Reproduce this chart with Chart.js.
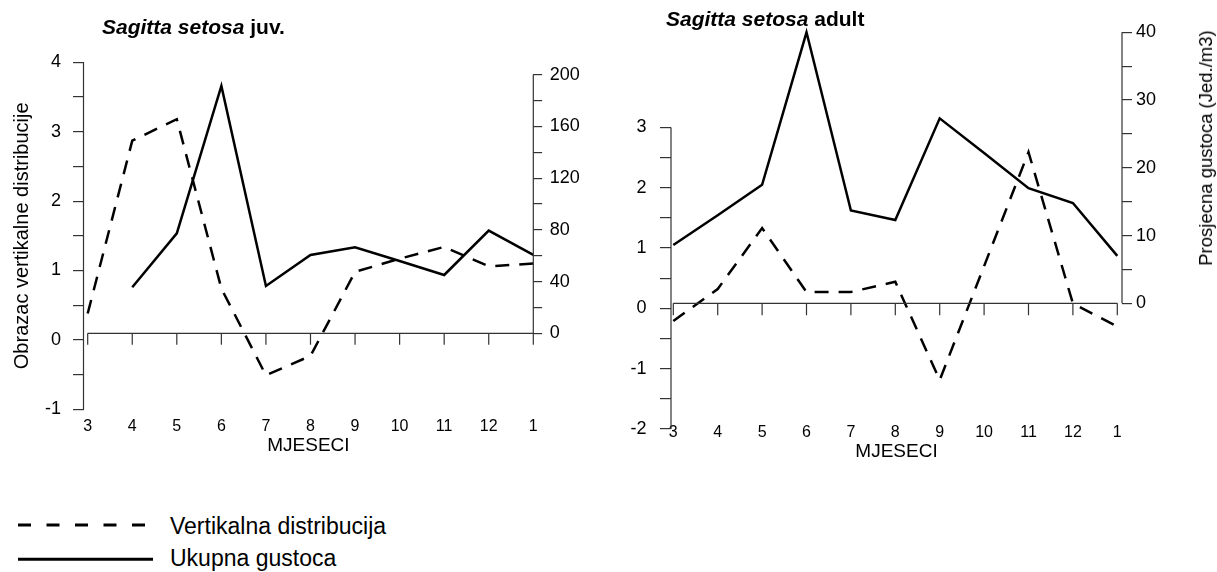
<!DOCTYPE html>
<html>
<head>
<meta charset="utf-8">
<script src="https://cdn.jsdelivr.net/npm/chart.js@4.4.1/dist/chart.umd.min.js"></script>
<style>
  body { margin: 0; background: #fff; }
  #wrap { position: relative; width: 1217px; height: 572px; overflow: hidden;
          font-family: 'Liberation Sans', Arial, sans-serif; color: #000; }
  canvas { position: absolute; top: 0; }
  .title { position: absolute; font-weight: bold; font-size: 21px; line-height: 21px; white-space: nowrap; }
  .leg { position: absolute; left: 170px; font-size: 23px; line-height: 23px; white-space: nowrap; }
  #ytitle { position: absolute; left: 1206px; top: 148px; font-size: 18.5px; line-height: 20px;
            white-space: nowrap; transform: translate(-50%, -50%) rotate(-90deg); }
</style>
</head>
<body>
<div id="wrap">
  <canvas id="juv" width="600" height="480" style="left:0;width:600px;height:480px"></canvas>
  <canvas id="adult" width="617" height="480" style="left:600px;width:617px;height:480px"></canvas>

  <div class="title" style="left:102px;top:16px"><i>Sagitta setosa</i> juv.</div>
  <div class="title" style="left:666px;top:8px"><i>Sagitta setosa</i> adult</div>
  <div id="ytitle">Prosjecna gustoca (Jed./m3)</div>

  <svg style="position:absolute;left:0;top:500px" width="200" height="72">
    <line x1="18" y1="25" x2="145" y2="25" stroke="#000" stroke-width="3" stroke-dasharray="13 15.5"/>
    <line x1="18" y1="59.3" x2="153" y2="59.3" stroke="#000" stroke-width="3"/>
  </svg>
  <div class="leg" style="top:514.5px">Vertikalna distribucija</div>
  <div class="leg" style="top:547px">Ukupna gustoca</div>
</div>

<script>
// months on the x axis
const MONTHS = ['3', '4', '5', '6', '7', '8', '9', '10', '11', '12', '1'];

// Sagitta setosa juv.
const JUV_VERTICAL = [0.38, 2.87, 3.18, 0.74, -0.51, -0.23, 0.98, 1.17, 1.34, 1.06, 1.10];
const JUV_DENSITY = [null, 35.6, 77.3, 191.3, 36.6, 60.6, 66.5, 55.9, 45.1, 79.4, 60.6];
const JUV_VERT_TICKS = [-1, 0, 1, 2, 3, 4];
const JUV_DENS_TICKS = [0, 40, 80, 120, 160, 200];

// Sagitta setosa adult
const ADULT_VERTICAL = [-0.21, 0.32, 1.33, 0.27, 0.27, 0.44, -1.19, 0.70, 2.59, 0.08, -0.30];
const ADULT_DENSITY = [8.6, 13.0, 17.5, 40.0, 13.7, 12.3, 27.3, 22.2, 17.0, 14.8, 7.0];
const ADULT_VERT_TICKS = [-2, -1, 0, 1, 2, 3];
const ADULT_DENS_TICKS = [0, 10, 20, 30, 40];

Chart.defaults.font.family = "'Liberation Sans', Arial, sans-serif";
Chart.defaults.color = '#000';

// major ticks plus one minor tick halfway between each pair
function withMinor(major) {
    var out = [];
    major.forEach(function(v, i) {
        out.push(v);
        if (i < major.length - 1) out.push((v + major[i + 1]) / 2);
    });
    return out;
}

// axis lines only over the labelled range, and the month baseline at density = 0
const axisLines = {
    id: 'axisLines',
    afterDraw(chart, args, o) {
        const ctx = chart.ctx;
        const { x, yL, yR } = chart.scales;
        ctx.save();
        ctx.strokeStyle = '#333';
        ctx.lineWidth = 1.2;
        ctx.beginPath();
        ctx.moveTo(yL.right, yL.getPixelForValue(o.left[0]));
        ctx.lineTo(yL.right, yL.getPixelForValue(o.left[1]));
        ctx.moveTo(yR.left, yR.getPixelForValue(o.right[0]));
        ctx.lineTo(yR.left, yR.getPixelForValue(o.right[1]));
        const y0 = yR.getPixelForValue(0);
        ctx.moveTo(x.getPixelForValue(0), y0);
        ctx.lineTo(x.getPixelForValue(MONTHS.length - 1), y0);
        MONTHS.forEach(function(m, i) {
            const px = x.getPixelForValue(i);
            ctx.moveTo(px, y0);
            ctx.lineTo(px, y0 + o.tick);
        });
        ctx.stroke();
        ctx.restore();
    }
};

function makeChart(id, c) {
    const pts = arr => arr.map((v, i) => ({ x: i, y: v }));
    const tickGrid = len => ({ display: true, drawOnChartArea: false, drawTicks: true,
                               tickLength: len, color: '#333', lineWidth: 1.2 });
    return new Chart(document.getElementById(id), {
        type: 'line',
        data: {
            datasets: [{
                label: 'Vertikalna distribucija',
                data: pts(c.vertical),
                yAxisID: 'yL',
                borderColor: '#000',
                borderWidth: 2.5,
                borderDash: [14, 10],
                pointRadius: 0,
                tension: 0,
                clip: false
            }, {
                label: 'Ukupna gustoca',
                data: pts(c.density),
                yAxisID: 'yR',
                borderColor: '#000',
                borderWidth: 2.5,
                pointRadius: 0,
                tension: 0,
                clip: false
            }]
        },
        options: {
            responsive: false,
            animation: false,
            devicePixelRatio: 1,
            layout: { padding: c.padding },
            plugins: {
                legend: { display: false },
                tooltip: { enabled: false },
                axisLines: {
                    left: [c.vertTicks[0], c.vertTicks[c.vertTicks.length - 1]],
                    right: [c.densTicks[0], c.densTicks[c.densTicks.length - 1]],
                    tick: c.baseTick
                }
            },
            scales: {
                x: {
                    type: 'linear',
                    position: 'bottom',
                    min: c.xRange[0],
                    max: c.xRange[1],
                    afterBuildTicks: s => { s.ticks = MONTHS.map((m, i) => ({ value: i })); },
                    afterFit: s => { s.height = c.xHeight; },
                    grid: { display: false, drawTicks: false },
                    border: { display: false },
                    ticks: {
                        autoSkip: false, maxRotation: 0, padding: c.xPad,
                        font: { size: 16 },
                        callback: v => MONTHS[v]
                    },
                    title: {
                        display: true, text: 'MJESECI',
                        font: { size: 19 },
                        padding: { top: 0, bottom: c.xTitlePad }
                    }
                },
                yL: {
                    type: 'linear',
                    position: 'left',
                    min: c.leftRange[0],
                    max: c.leftRange[1],
                    afterBuildTicks: s => { s.ticks = withMinor(c.vertTicks).map(v => ({ value: v })); },
                    afterFit: s => { s.width = c.leftWidth; },
                    grid: tickGrid(c.leftTick),
                    border: { display: false },
                    ticks: {
                        autoSkip: false, padding: c.leftPad,
                        font: { size: 18 },
                        callback: v => c.vertTicks.includes(v) ? String(v) : ''
                    },
                    title: c.leftTitle ? {
                        display: true, text: c.leftTitle,
                        font: { size: 20 },
                        padding: { top: 10, bottom: 0 }
                    } : { display: false }
                },
                yR: {
                    type: 'linear',
                    position: 'right',
                    min: c.rightRange[0],
                    max: c.rightRange[1],
                    afterBuildTicks: s => { s.ticks = withMinor(c.densTicks).map(v => ({ value: v })); },
                    afterFit: s => { s.width = c.rightWidth; },
                    grid: tickGrid(c.rightTick),
                    border: { display: false },
                    ticks: {
                        autoSkip: false, padding: c.rightPad,
                        font: { size: 18 },
                        callback: v => c.densTicks.includes(v) ? String(v) : ''
                    }
                }
            }
        },
        plugins: [axisLines]
    });
}

makeChart('juv', {
    vertical: JUV_VERTICAL, density: JUV_DENSITY,
    vertTicks: JUV_VERT_TICKS, densTicks: JUV_DENS_TICKS,
    xRange: [-0.094, 10], leftRange: [-1, 4], rightRange: [-58.8, 209.6],
    padding: { top: 62.3, left: 0, right: 6.7, bottom: 20.7 },
    leftWidth: 83.5, rightWidth: 60, xHeight: 50,
    leftTick: 10.5, rightTick: 8.8, baseTick: 11.5,
    leftPad: 12, rightPad: 7.6, xPad: 8, xTitlePad: 2,
    leftTitle: 'Obrazac vertikalne distribucije'
});

// the adult plot area stops a little above -2 so the month labels can sit close to it
makeChart('adult', {
    vertical: ADULT_VERTICAL, density: ADULT_DENSITY,
    vertTicks: ADULT_VERT_TICKS, densTicks: ADULT_DENS_TICKS,
    xRange: [-0.052, 10.106], leftRange: [-1.852, 4.615], rightRange: [-17.22, 40.34],
    padding: { top: 30, left: 0, right: 0, bottom: 10 },
    leftWidth: 71, rightWidth: 95, xHeight: 50,
    leftTick: 11, rightTick: 10, baseTick: 12,
    leftPad: 13.5, rightPad: 4, xPad: 3.1, xTitlePad: 6.9,
    leftTitle: null
});
</script>
</body>
</html>
